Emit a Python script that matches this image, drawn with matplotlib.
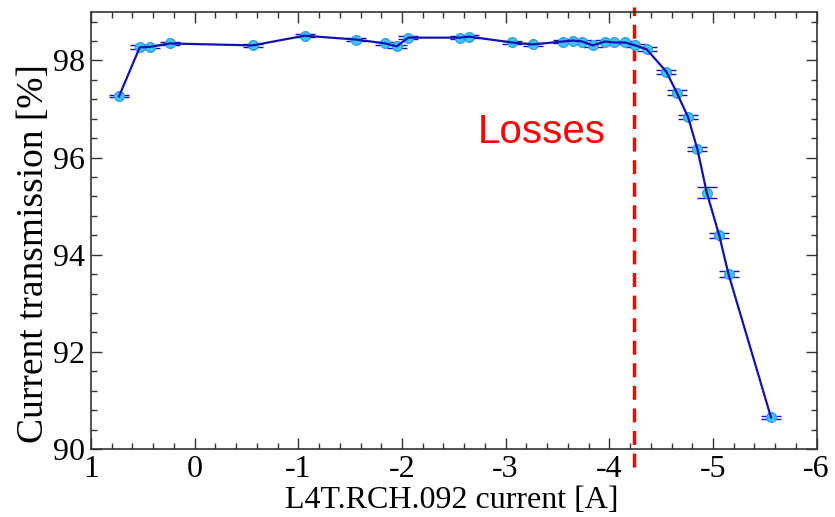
import matplotlib
matplotlib.use("Agg")
import matplotlib.pyplot as plt
from matplotlib.ticker import MultipleLocator

plt.rcParams["axes.unicode_minus"] = False

# current on L4T.RCH.092 [A]
current = [0.73, 0.53, 0.43, 0.24, -0.56, -1.06, -1.56, -1.84, -1.95, -2.06,
           -2.56, -2.65, -3.06, -3.26, -3.55, -3.65, -3.74, -3.84, -3.96, -4.05,
           -4.15, -4.25, -4.36, -4.55, -4.65, -4.76, -4.85, -4.94, -5.06, -5.15,
           -5.56]
# transmission [%]
transmission = [97.26, 98.27, 98.28, 98.35, 98.31, 98.51, 98.43, 98.35, 98.29, 98.47,
                98.47, 98.49, 98.37, 98.33, 98.39, 98.41, 98.39, 98.31, 98.39, 98.37,
                98.37, 98.31, 98.23, 97.77, 97.34, 96.83, 96.17, 95.28, 94.40, 93.60,
                90.65]
err = [0.02, 0.04, 0.03, 0.03, 0.03, 0.03, 0.03, 0.03, 0.03, 0.03,
       0.03, 0.03, 0.03, 0.03, 0.03, 0.04, 0.03, 0.04, 0.03, 0.03,
       0.03, 0.03, 0.04, 0.04, 0.05, 0.04, 0.04, 0.11, 0.05, 0.06,
       0.03]
loss_start = -4.24

serif = "Liberation Serif"
blue = "#1212b0"

fig = plt.figure(figsize=(8.35, 5.17), dpi=100)
ax = fig.add_axes([0.109, 0.1315, 0.869, 0.8455])

# markers + error bars underneath, connecting line on top
ax.errorbar(current, transmission, yerr=err, fmt="o", ms=7,
            mfc="#3cc4f2", mec="#3a9ee6", mew=1.0,
            ecolor=blue, elinewidth=1.6, capsize=7, capthick=2.0, zorder=2)
ax.plot(current, transmission, color=blue, lw=1.6, zorder=3)

ax.axvline(loss_start, ymin=-0.041, ymax=1.011, color="#ff0000", lw=2.5,
           ls=(0, (4, 2.5)), clip_on=False)
ax.text(-3.97, 96.31, "Losses", color="#ff0000", fontsize=29,
        family="Liberation Sans", ha="right", va="baseline")

ax.set_xlim(1, -6)
ax.set_ylim(90, 99)
ax.set_yticks([90, 92, 94, 96, 98])
ax.xaxis.set_major_locator(MultipleLocator(1))
ax.xaxis.set_minor_locator(MultipleLocator(0.2))
ax.yaxis.set_minor_locator(MultipleLocator(0.4))
ax.tick_params(which="both", direction="in", top=True, right=True,
               colors="#333333", labelcolor="black", width=1)
ax.tick_params(which="major", length=8, labelsize=23, pad=4)
ax.tick_params(which="minor", length=4)
for lab in ax.get_xticklabels() + ax.get_yticklabels():
    lab.set_family(serif)
for s in ax.spines.values():
    s.set_color("#333333")
    s.set_linewidth(1.2)

ax.set_xlabel("L4T.RCH.092 current [A]", fontsize=23, family=serif)
ax.set_ylabel("Current transmission [%]", fontsize=27, family=serif)
ax.xaxis.set_label_coords(0.4966, -0.085)
ax.yaxis.set_label_coords(-0.055, 0.446)

fig.savefig("out.png", dpi=100)
